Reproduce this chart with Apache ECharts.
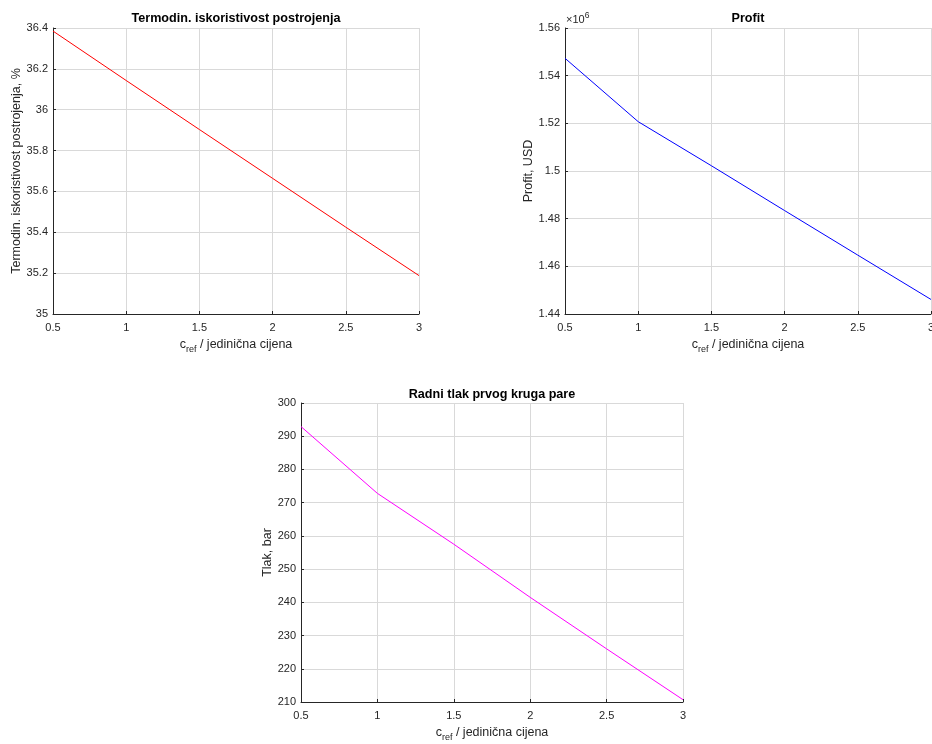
<!DOCTYPE html>
<html>
<head>
<meta charset="utf-8">
<script src="https://cdn.jsdelivr.net/npm/echarts@6/dist/echarts.min.js"></script>
<style>
html,body{margin:0;padding:0;background:#fff;}
#chart{width:932px;height:744px;}
</style>
</head>
<body>
<div id="chart"></div>
<script>
// ---- data ----
const cRef = [0.5, 1, 1.5, 2, 2.5, 3];
const efficiency = [36.385, 36.143, 35.903, 35.664, 35.425, 35.188];
const profit = [1547300, 1520700, 1502200, 1483400, 1464700, 1446100];
const pressure = [292.9, 272.8, 257.5, 241.5, 226.0, 210.7];

const titles = ['Termodin. iskoristivost postrojenja', 'Profit', 'Radni tlak prvog kruga pare'];
const yNames = ['Termodin. iskoristivost postrojenja, %', 'Profit, USD', 'Tlak, bar'];
const xName = '{c|c}{s|ref}{t| / jedinična cijena}';

const FONT = '"Liberation Sans", Arial, Helvetica, sans-serif';
const TXT = '#262626';
const GRIDC = '#d9d9d9';

const grids = [
  {left: 53, top: 28, width: 366, height: 286, outerBoundsMode: 'none', containLabel: false},
  {left: 565, top: 28, width: 366, height: 286, outerBoundsMode: 'none', containLabel: false},
  {left: 301, top: 403, width: 382, height: 299, outerBoundsMode: 'none', containLabel: false}
];

function xAxisDef(i) {
  return {
    type: 'value', gridIndex: i, min: 0.5, max: 3, interval: 0.5,
    axisLine: {show: true, onZero: false, lineStyle: {color: TXT, width: 1}},
    axisTick: {show: true, inside: true, length: 3, lineStyle: {color: TXT}},
    axisLabel: {color: TXT, fontFamily: FONT, fontSize: 11, margin: 8},
    splitLine: {show: true, lineStyle: {color: GRIDC, width: 1}},
    name: xName, nameLocation: 'middle', nameGap: 24,
    nameTextStyle: {
      color: TXT, fontFamily: FONT,
      rich: {
        c: {fontSize: 12.5, fontFamily: FONT, color: TXT, lineHeight: 16, verticalAlign: 'top'},
        t: {fontSize: 12.5, fontFamily: FONT, color: TXT, lineHeight: 16, verticalAlign: 'top'},
        s: {fontSize: 9, fontFamily: FONT, color: TXT, lineHeight: 6, verticalAlign: 'bottom'}
      }
    }
  };
}

function yAxisDef(i, min, max, interval, gap, fmt) {
  const a = {
    type: 'value', gridIndex: i, min: min, max: max, interval: interval,
    axisLine: {show: true, onZero: false, lineStyle: {color: TXT, width: 1}},
    axisTick: {show: true, inside: true, length: 3, lineStyle: {color: TXT}},
    axisLabel: {color: TXT, fontFamily: FONT, fontSize: 11, margin: 5},
    splitLine: {show: true, lineStyle: {color: GRIDC, width: 1}},
    name: yNames[i], nameLocation: 'middle', nameGap: gap, nameRotate: 90,
    nameTextStyle: {color: TXT, fontFamily: FONT, fontSize: 12.5}
  };
  if (fmt) a.axisLabel.formatter = fmt;
  return a;
}

const titleStyle = {fontFamily: FONT, fontSize: 12.6, fontWeight: 'bold', color: '#000'};

const option = {
  backgroundColor: '#ffffff',
  animation: false,
  title: [
    {text: titles[0], left: 236, top: 12, padding: 0, textAlign: 'center', textStyle: titleStyle},
    {text: titles[1], left: 748, top: 12, padding: 0, textAlign: 'center', textStyle: titleStyle},
    {text: titles[2], left: 492, top: 388, padding: 0, textAlign: 'center', textStyle: titleStyle}
  ],
  grid: grids,
  xAxis: [xAxisDef(0), xAxisDef(1), xAxisDef(2)],
  yAxis: [
    yAxisDef(0, 35, 36.4, 0.2, 29),
    yAxisDef(1, 1440000, 1560000, 20000, 30, v => String(+(v / 1e6).toFixed(2))),
    yAxisDef(2, 210, 300, 10, 26)
  ],
  graphic: [
    {type: 'text', left: 566, top: 11,
     style: {text: '{m|×10}{sup|6}', fill: TXT,
       rich: {
         m: {fontSize: 11, fontFamily: FONT, fill: TXT, verticalAlign: 'bottom', lineHeight: 14},
         sup: {fontSize: 8.5, fontFamily: FONT, fill: TXT, verticalAlign: 'top', lineHeight: 9}
       }}}
  ],
  series: [
    {type: 'line', xAxisIndex: 0, yAxisIndex: 0, data: cRef.map((x, k) => [x, efficiency[k]]),
     showSymbol: false, lineStyle: {color: '#ff0000', width: 1}, itemStyle: {color: '#ff0000'}},
    {type: 'line', xAxisIndex: 1, yAxisIndex: 1, data: cRef.map((x, k) => [x, profit[k]]),
     showSymbol: false, lineStyle: {color: '#0000ff', width: 1}, itemStyle: {color: '#0000ff'}},
    {type: 'line', xAxisIndex: 2, yAxisIndex: 2, data: cRef.map((x, k) => [x, pressure[k]]),
     showSymbol: false, lineStyle: {color: '#ff00ff', width: 1}, itemStyle: {color: '#ff00ff'}}
  ]
};

const chart = echarts.init(document.getElementById('chart'), null, {renderer: 'canvas'});
chart.setOption(option);
</script>
</body>
</html>
